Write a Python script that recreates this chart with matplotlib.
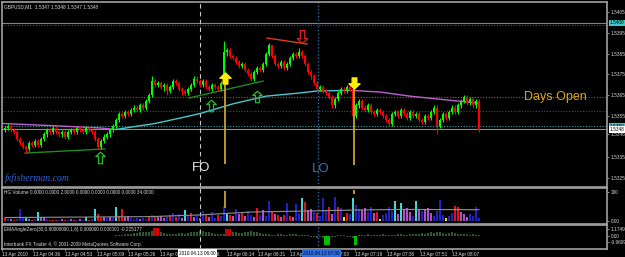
import matplotlib
matplotlib.use("Agg")
import matplotlib.pyplot as plt
from matplotlib.path import Path
import numpy as np

# -----------------------
# GBPUSD M1 candles
# -----------------------
opens = [
    1.5348, 1.5349, 1.5350, 1.5348, 1.5347, 1.5344, 1.5342, 1.5340, 1.5339, 1.5342,
    1.5341, 1.5343, 1.5341, 1.5344, 1.5346, 1.5348, 1.5347, 1.5349, 1.5347, 1.5346,
    1.5347, 1.5345, 1.5347, 1.5348, 1.5347, 1.5349, 1.5348, 1.5347, 1.5349, 1.5348,
    1.5347, 1.5344, 1.5340, 1.5343, 1.5345, 1.5346, 1.5348, 1.5350, 1.5353, 1.5356,
    1.5355, 1.5357, 1.5356, 1.5358, 1.5359, 1.5358, 1.5360, 1.5359, 1.5362, 1.5365,
    1.5372, 1.5370, 1.5371, 1.5369, 1.5370, 1.5367, 1.5369, 1.5372, 1.5371, 1.5368,
    1.5367, 1.5366, 1.5368, 1.5370, 1.5373, 1.5372, 1.5370, 1.5372, 1.5369, 1.5368,
    1.5370, 1.5369, 1.5368, 1.5371, 1.5386, 1.5387, 1.5384, 1.5383, 1.5381, 1.5379,
    1.5380, 1.5377, 1.5375, 1.5373, 1.5376, 1.5378, 1.5377, 1.5380, 1.5385, 1.5389,
    1.5384, 1.5380, 1.5379, 1.5381, 1.5378, 1.5380, 1.5383, 1.5385, 1.5384, 1.5386,
    1.5384, 1.5380, 1.5376, 1.5374, 1.5371, 1.5368, 1.5369, 1.5367, 1.5366, 1.5364,
    1.5360, 1.5363, 1.5366, 1.5368, 1.5367, 1.5369, 1.5368, 1.5355, 1.5360, 1.5362,
    1.5359, 1.5358, 1.5360, 1.5357, 1.5356, 1.5358, 1.5357, 1.5355, 1.5353, 1.5351,
    1.5356, 1.5357, 1.5355, 1.5358, 1.5356, 1.5354, 1.5357, 1.5355, 1.5356, 1.5353,
    1.5352, 1.5355, 1.5354, 1.5357, 1.5359, 1.5350, 1.5353, 1.5356, 1.5354, 1.5357,
    1.5359, 1.5357, 1.5360, 1.5362, 1.5364, 1.5361, 1.5363, 1.5360, 1.5362,
]
closes = [
    1.5349, 1.5350, 1.5348, 1.5347, 1.5344, 1.5342, 1.5340, 1.5339, 1.5342, 1.5341,
    1.5343, 1.5341, 1.5344, 1.5346, 1.5348, 1.5347, 1.5349, 1.5347, 1.5346, 1.5347,
    1.5345, 1.5347, 1.5348, 1.5347, 1.5349, 1.5348, 1.5347, 1.5349, 1.5348, 1.5347,
    1.5344, 1.5340, 1.5343, 1.5345, 1.5346, 1.5348, 1.5350, 1.5353, 1.5356, 1.5355,
    1.5357, 1.5356, 1.5358, 1.5359, 1.5358, 1.5360, 1.5359, 1.5362, 1.5365, 1.5372,
    1.5370, 1.5371, 1.5369, 1.5370, 1.5367, 1.5369, 1.5372, 1.5371, 1.5368, 1.5367,
    1.5366, 1.5368, 1.5370, 1.5373, 1.5372, 1.5370, 1.5372, 1.5369, 1.5368, 1.5370,
    1.5369, 1.5368, 1.5371, 1.5386, 1.5387, 1.5384, 1.5383, 1.5381, 1.5379, 1.5380,
    1.5377, 1.5375, 1.5373, 1.5376, 1.5378, 1.5377, 1.5380, 1.5385, 1.5389, 1.5384,
    1.5380, 1.5379, 1.5381, 1.5378, 1.5380, 1.5383, 1.5385, 1.5384, 1.5386, 1.5384,
    1.5380, 1.5376, 1.5374, 1.5371, 1.5368, 1.5369, 1.5367, 1.5366, 1.5364, 1.5360,
    1.5363, 1.5366, 1.5368, 1.5367, 1.5369, 1.5368, 1.5355, 1.5360, 1.5362, 1.5359,
    1.5358, 1.5360, 1.5357, 1.5356, 1.5358, 1.5357, 1.5355, 1.5353, 1.5351, 1.5356,
    1.5357, 1.5355, 1.5358, 1.5356, 1.5354, 1.5357, 1.5355, 1.5356, 1.5353, 1.5352,
    1.5355, 1.5354, 1.5357, 1.5359, 1.5350, 1.5353, 1.5356, 1.5354, 1.5357, 1.5359,
    1.5357, 1.5360, 1.5362, 1.5364, 1.5361, 1.5363, 1.5360, 1.5362, 1.5348,
]
highs = [
    1.5350, 1.5351, 1.5351, 1.5349, 1.5348, 1.5345, 1.5343, 1.5341, 1.5343, 1.5343,
    1.5344, 1.5344, 1.5345, 1.5347, 1.5349, 1.5349, 1.5350, 1.5350, 1.5348, 1.5348,
    1.5348, 1.5348, 1.5349, 1.5349, 1.5350, 1.5350, 1.5349, 1.5350, 1.5350, 1.5349,
    1.5348, 1.5345, 1.5344, 1.5346, 1.5347, 1.5349, 1.5351, 1.5354, 1.5357, 1.5357,
    1.5358, 1.5358, 1.5359, 1.5360, 1.5360, 1.5361, 1.5361, 1.5363, 1.5366, 1.5374,
    1.5373, 1.5372, 1.5372, 1.5371, 1.5371, 1.5370, 1.5373, 1.5373, 1.5372, 1.5369,
    1.5368, 1.5369, 1.5371, 1.5374, 1.5374, 1.5373, 1.5373, 1.5373, 1.5370, 1.5371,
    1.5371, 1.5370, 1.5372, 1.5391, 1.5388, 1.5388, 1.5385, 1.5384, 1.5382, 1.5381,
    1.5381, 1.5378, 1.5376, 1.5377, 1.5379, 1.5379, 1.5381, 1.5386, 1.5390, 1.5389,
    1.5385, 1.5381, 1.5382, 1.5382, 1.5381, 1.5384, 1.5386, 1.5386, 1.5388, 1.5387,
    1.5385, 1.5381, 1.5377, 1.5375, 1.5372, 1.5370, 1.5370, 1.5368, 1.5367, 1.5365,
    1.5364, 1.5367, 1.5369, 1.5369, 1.5370, 1.5370, 1.5368, 1.5361, 1.5363, 1.5363,
    1.5360, 1.5361, 1.5361, 1.5358, 1.5359, 1.5359, 1.5358, 1.5356, 1.5354, 1.5357,
    1.5358, 1.5358, 1.5359, 1.5359, 1.5357, 1.5358, 1.5358, 1.5357, 1.5357, 1.5354,
    1.5356, 1.5356, 1.5358, 1.5360, 1.5360, 1.5354, 1.5357, 1.5357, 1.5358, 1.5360,
    1.5360, 1.5361, 1.5363, 1.5365, 1.5365, 1.5364, 1.5364, 1.5363, 1.5363,
]
lows = [
    1.5347, 1.5348, 1.5347, 1.5346, 1.5343, 1.5341, 1.5339, 1.5337, 1.5338, 1.5340,
    1.5340, 1.5340, 1.5340, 1.5343, 1.5345, 1.5346, 1.5346, 1.5346, 1.5345, 1.5345,
    1.5344, 1.5344, 1.5346, 1.5346, 1.5346, 1.5347, 1.5346, 1.5346, 1.5347, 1.5346,
    1.5343, 1.5339, 1.5339, 1.5342, 1.5344, 1.5345, 1.5347, 1.5349, 1.5352, 1.5354,
    1.5354, 1.5355, 1.5355, 1.5357, 1.5357, 1.5357, 1.5358, 1.5358, 1.5361, 1.5364,
    1.5369, 1.5369, 1.5368, 1.5367, 1.5365, 1.5366, 1.5368, 1.5370, 1.5367, 1.5365,
    1.5365, 1.5365, 1.5367, 1.5369, 1.5371, 1.5369, 1.5369, 1.5368, 1.5367, 1.5367,
    1.5368, 1.5367, 1.5367, 1.5370, 1.5384, 1.5383, 1.5382, 1.5380, 1.5378, 1.5378,
    1.5376, 1.5374, 1.5372, 1.5372, 1.5375, 1.5376, 1.5376, 1.5379, 1.5384, 1.5383,
    1.5379, 1.5378, 1.5378, 1.5377, 1.5377, 1.5379, 1.5382, 1.5383, 1.5383, 1.5383,
    1.5379, 1.5375, 1.5373, 1.5370, 1.5367, 1.5367, 1.5366, 1.5365, 1.5363, 1.5359,
    1.5359, 1.5362, 1.5365, 1.5366, 1.5366, 1.5367, 1.5354, 1.5354, 1.5359, 1.5358,
    1.5357, 1.5357, 1.5356, 1.5355, 1.5355, 1.5356, 1.5354, 1.5352, 1.5350, 1.5350,
    1.5355, 1.5354, 1.5354, 1.5355, 1.5353, 1.5353, 1.5354, 1.5354, 1.5352, 1.5351,
    1.5351, 1.5353, 1.5353, 1.5356, 1.5346, 1.5349, 1.5352, 1.5353, 1.5353, 1.5356,
    1.5356, 1.5356, 1.5359, 1.5361, 1.5360, 1.5360, 1.5359, 1.5359, 1.5347,
]

# moving average (cyan while rising, magenta while falling)
ma_fall1_bars = [-1, 18, 32, 37]
ma_fall1 = [1.53513, 1.53501, 1.53491, 1.53484]
ma_rise_bars = [37, 50, 58, 65, 76, 87, 98, 104, 115]
ma_rise = [1.53484, 1.53513, 1.53538, 1.53561, 1.53608, 1.53645, 1.53660, 1.53670, 1.53673]
ma_fall2_bars = [115, 125, 135, 147, 158]
ma_fall2 = [1.53673, 1.53665, 1.53645, 1.53627, 1.53611]

# horizontal levels
level_top = 1.5400
level_top_dots = 1.53991
days_open = 1.53642
level_green = 1.53573
level_cyan = 1.5350
last_price = 1.53484

# trend lines and signals
green_line1_bars = [6.7, 33.3]
green_line1 = [1.53370, 1.53390]
green_line2_bars = [61.3, 86.0]
green_line2 = [1.53636, 1.53718]
red_line_bars = [87.3, 100.7]
red_line = [1.53926, 1.53897]

fo_bar = 65.0
lo_bar = 104.3
buy_bar, buy_price = 73.3, 1.53733
sell_bar, sell_price = 116.3, 1.53709
buy_stem = [1.53716, 1.53317]
sell_stem = [1.53685, 1.53312]
down_hint_bar, down_hint_price = 99.0, 1.53930
up_hint_bars = [31.7, 68.7, 84.0]
up_hint_prices = [1.53350, 1.53602, 1.53646]

# volume histogram
volumes = [
    10, 7, 7, 3, 7, 41, 10, 14, 7, 3,
    7, 31, 14, 14, 7, 3, 3, 3, 3, 7,
    3, 3, 7, 3, 3, 7, 3, 14, 3, 7,
    41, 24, 10, 14, 10, 14, 10, 48, 17, 41,
    14, 17, 10, 7, 10, 7, 10, 7, 17, 21,
    17, 14, 17, 10, 14, 21, 28, 14, 24, 10,
    38, 17, 28, 14, 21, 10, 35, 24, 14, 31,
    10, 21, 17, 52, 28, 21, 17, 41, 24, 28,
    17, 35, 21, 14, 45, 21, 38, 17, 69, 31,
    24, 21, 14, 21, 62, 17, 14, 59, 28, 79,
    66, 38, 41, 31, 28, 17, 79, 35, 48, 24,
    83, 48, 45, 14, 28, 24, 79, 55, 41, 38,
    45, 31, 48, 28, 31, 7, 21, 28, 48, 35,
    69, 24, 62, 41, 45, 31, 17, 69, 38, 35,
    41, 45, 28, 17, 35, 72, 21, 10, 17, 28,
    52, 48, 31, 24, 14, 24, 17, 48, 10,
]
vol_kind = (
    "rbmrbbbcmr" "bcmmbrrrbm" "rbmrbmbcrb" "crrmbmbcrr" "mmbbbmbbrb"
    "rmmmbrbrbm" "cbrmbmbrmb" "brbbcrmbmr" "mbbmrbmbbr" "mrmrbrmbbc"
    "rmmbrbbbrm" "brbyrbcbbm" "mbbmrybbbb" "cmcmmmbcmb" "mmmbbbbybb"
    "rrmmmbbbb"
)
vol_ma_bars = [0, 48, 65, 82, 98, 118, 132, 158]
vol_ma = [12, 15, 21, 31, 34, 38, 40, 39]
vol_buy_seg = [45, 103]
vol_sell_seg = [93, 107]

# EMAAngleZero histogram
ema = [
    0, 0, 0, 0, 0, 0, 0, 0, 0, 0,
    0, 0, 0, 0, 0, 0, 0, 0, 0, 0,
    0, 0, 0, 0, 0, 0, 0, 0, 0, 0,
    0, 0, 0, 0, 0, 0, 0, 0.1, 0.2, 0.2,
    0.3, 0.3, 0.4, 0.5, 0.5, 0.6, 0.6, 0.7, 0.7, 0.8,
    1.3, 1.3, 0.6, 0.5, 0.4, 0.4, 0.3, 0.4, 0.5, 0.5,
    0.4, 0.5, 0.6, 0.6, 0.7, 0.8, 0.8, 0.7, 0.6, 0.5,
    0.4, 0.3, 0.3, 0.4, 1.15, 1.15, 0.7, 0.6, 0.5, 0.5,
    0.6, 0.7, 0.8, 0.7, 0.6, 0.5, 0.4, 0.3, 0.3, 0.2,
    0.2, 0.3, 0.3, 0.2, 0.2, 0.3, 0.4, 0.3, 0.2, 0.1,
    0.1, 0.1, -0.1, -0.2, -0.3, -0.2, -0.3, -1.5, -1.5, -0.2,
    -0.1, 0.1, 0.2, 0.1, -0.1, -0.2, -0.3, -1.5, 0.1, 0.2,
    0.2, 0.3, 0.2, 0.1, 0.1, 0.2, 0.3, 0.2, 0.2, 0.1,
    0.2, 0.3, 0.3, 0.2, 0.2, 0.3, 0.4, 0.3, 0.4, 0.5,
    0.4, 0.5, 0.6, 0.5, 0.6, 0.6, 0.5, 0.4, 0.5, 0.6,
    0.5, 0.4, 0.3, 0.4, 0.3, 0.2, 0.3, 0.2, 0.1,
]
ema_red_bars = [50, 51, 74, 75]
ema_green_bars = [107, 108, 117]

# axis labels
price_ticks = [1.5405, 1.5395, 1.5385, 1.5375, 1.5365, 1.5355, 1.5346, 1.5335, 1.5325]
time_tick_bars = [-1, 9.3, 20, 30.7, 41, 51.7, 62.3, 74, 84.3, 95, 105.7, 116.7, 127.3, 138.3, 149]
time_tick_labels = [
    "13 Apr 2010", "13 Apr 04:36", "13 Apr 04:53", "13 Apr 05:09", "13 Apr 05:26",
    "13 Apr 05:42", "13 Apr 05:58", "13 Apr 06:14", "13 Apr 06:31", "13 Apr 06:47",
    "13 Apr 07:03", "13 Apr 07:19", "13 Apr 07:36", "13 Apr 07:51", "13 Apr 08:07",
]

# -----------------------
# Style
# -----------------------
BG = "black"
FRAME = "#a0a0a0"
TXT = "#d8d8d8"
BULL = "#00ff00"
BEAR = "#ff0000"
CYAN_MA = "#48c8d0"
MAG_MA = "#c060d0"
SIGNAL = "#c9a227"
VOL_COLORS = {"b": "#2020c8", "m": "#b050c8", "r": "#e81010", "c": "#40d8d8", "y": "#e8e800"}
FAM = ["Liberation Sans", "DejaVu Sans"]
FS = 3.4
SMALL = dict(fontsize=FS, family=FAM)

W, H = 625, 257
fig = plt.figure(figsize=(W / 100, H / 100), dpi=100, facecolor=BG)


def panel(y0, y1, x0=2, x1=607):
    ax = fig.add_axes([x0 / W, 1 - y1 / H, (x1 - x0) / W, (y1 - y0) / H])
    ax.set_facecolor(BG)
    for sp in ax.spines.values():
        sp.set_color(FRAME)
        sp.set_linewidth(1.2)
    ax.set_xlim(-1, 200.67)
    ax.set_xticks([])
    ax.yaxis.tick_right()
    ax.tick_params(axis="y", colors=FRAME, labelcolor=TXT, labelsize=FS,
                   length=1.5, width=0.6, pad=1.0)
    return ax


ax = panel(2, 187)
ax_vol = panel(188, 223.5)
ax_ema = panel(224.5, 248.5)

bars = np.arange(len(closes))
o, c = np.array(opens), np.array(closes)
h, l = np.array(highs), np.array(lows)

# -----------------------
# Main price panel
# -----------------------
ax.set_ylim(1.53206, 1.54100)
ax.set_yticks(price_ticks)
ax.set_yticklabels([f"{p:.4f}" for p in price_ticks], family=FAM)

ax.axhline(level_top, color="#20b0b0", lw=0.8)
ax.axhline(level_top_dots, color="#c000c0", lw=0.8, ls=(0, (1, 1.5)))
ax.axhline(days_open, color="#a06000", lw=0.8, ls=(0, (1, 1.5)))
ax.axhline(level_green, color="#007050", lw=0.8, ls=(0, (1, 1.5)))
ax.axhline(level_cyan, color="#40a0a8", lw=0.8, ls=(0, (1, 1.5)))
ax.axhline(last_price, color="#909090", lw=0.8)

for a in (ax, ax_vol, ax_ema):
    a.axvline(fo_bar, color="#c8c8c8", lw=0.8, ls=(0, (4, 3)))
    a.axvline(lo_bar, color="#2a6ab0", lw=1.0, ls=(0, (1, 1.5)))

ax.plot(ma_fall1_bars, ma_fall1, color=MAG_MA, lw=1.0)
ax.plot(ma_rise_bars, ma_rise, color=CYAN_MA, lw=1.0)
ax.plot(ma_fall2_bars, ma_fall2, color=MAG_MA, lw=1.0)

ax.plot(green_line1_bars, green_line1, color="#1f8a1f", lw=1.0)
ax.plot(green_line2_bars, green_line2, color="#1f8a1f", lw=1.0)
ax.plot(red_line_bars, red_line, color="#e03a1a", lw=1.0)

colors = np.where(c >= o, BULL, BEAR)
ax.vlines(bars, l, h, colors=colors, lw=0.8, zorder=3)
ax.bar(bars, np.abs(c - o), bottom=np.minimum(o, c), width=0.7,
       color=colors, linewidth=0, zorder=3)

ax.vlines([buy_bar], buy_stem[1], buy_stem[0], color=SIGNAL, lw=1.3, zorder=4)
ax.vlines([sell_bar], sell_stem[1], sell_stem[0], color=SIGNAL, lw=1.3, zorder=4)

up_arrow = Path([(0, 1), (1, 0.05), (0.42, 0.05), (0.42, -1), (-0.42, -1),
                 (-0.42, 0.05), (-1, 0.05), (0, 1)], closed=True)
down_arrow = Path([(x, -y) for x, y in up_arrow.vertices], closed=True)
hint_up = Path([(0, 1), (0.9, 0.2), (0.38, 0.2), (0.38, -1.2), (-0.38, -1.2),
                (-0.38, 0.2), (-0.9, 0.2), (0, 1)], closed=True)
hint_down = Path([(x, -y) for x, y in hint_up.vertices], closed=True)

ax.plot([buy_bar], [buy_price], marker=up_arrow, ms=8, color="#ffee00", mec="#ffee00", ls="", zorder=5)
ax.plot([sell_bar], [sell_price], marker=down_arrow, ms=8, color="#ffee00", mec="#ffee00", ls="", zorder=5)
ax.plot([down_hint_bar], [down_hint_price], marker=hint_down, ms=10, mfc="none",
        mec="#e02020", mew=0.9, ls="", zorder=5)
ax.plot(up_hint_bars, up_hint_prices, marker=hint_up, ms=9, mfc="none",
        mec="#20c020", mew=0.9, ls="", zorder=5)

ax.text(0.004, 0.985, "GBPUSD,M1  1.5347 1.5348 1.5347 1.5348", transform=ax.transAxes,
        color=TXT, ha="left", va="top", **SMALL)
ax.text(173, days_open, "Days Open", color="#daa520", fontsize=9,
        family="Liberation Sans", ha="left", va="center")
ax.text(fo_bar + 0.5, 1.53300, "FO", color="#e8e8e8", fontsize=9.5,
        family="Liberation Sans", ha="center", va="center")
ax.text(lo_bar + 0.9, 1.53295, "LO", color="#3d72b8", fontsize=9.5,
        family="Liberation Sans", ha="center", va="center")
ax.text(0.005, 0.048, "fxfisherman.com", transform=ax.transAxes, color="#3060d0",
        fontsize=7, family="Liberation Serif", style="italic", ha="left", va="center")

ytr = ax.get_yaxis_transform()
for val, txt, fc in [(level_top, "1.5400", "#40c8c8"), (level_cyan, "1.5350", "#40c8c8"),
                     (last_price, "1.5348", "white")]:
    ax.text(1.005, val, txt, transform=ytr, color="black", ha="left", va="center",
            bbox=dict(boxstyle="square,pad=0.12", fc=fc, ec="none"), zorder=6, **SMALL)

# -----------------------
# Volume panel
# -----------------------
ax_vol.set_ylim(-8.6, 113.9)
ax_vol.set_yticks([100, 0])
ax_vol.set_yticklabels(["100", "0.00"], family=FAM)
ax_vol.bar(bars, volumes, width=0.7, color=[VOL_COLORS[k] for k in vol_kind], linewidth=0)
ax_vol.plot(vol_ma_bars, vol_ma, color="#909090", lw=0.8)
ax_vol.vlines([buy_bar], vol_buy_seg[0], vol_buy_seg[1], color=SIGNAL, lw=1.3)
ax_vol.vlines([sell_bar], vol_sell_seg[0], vol_sell_seg[1], color=SIGNAL, lw=1.3)
ax_vol.text(0.004, 0.86, "HG Volume 0.0000 0.0000 2.0000 0.0000 0.0000 0.0000 0.0000 34.0000",
            transform=ax_vol.transAxes, color=TXT, ha="left", va="center", **SMALL)

# -----------------------
# EMA angle panel
# -----------------------
ax_ema.set_ylim(-2.08, 1.92)
ax_ema.set_yticks([1.174975, 0, -0.960913])
ax_ema.set_yticklabels(["1.174975", "0.00", "-0.960913"], family=FAM)
ema_col = ["#d00000" if i in ema_red_bars else "#00c000" if i in ema_green_bars else "#2a5a2a"
           for i in bars]
ema_w = [1.0 if (i in ema_red_bars or i in ema_green_bars) else 0.35 for i in bars]
ax_ema.bar(bars, ema, width=ema_w, color=ema_col, linewidth=0)
ax_ema.text(0.004, 0.79, "EMAAngleZero(30,0.80000000,1,6) 0.000000 0.000000 -0.225177",
            transform=ax_ema.transAxes, color=TXT, ha="left", va="center", **SMALL)
ax_ema.text(0.003, 0.19, "Interbank FX Trader 4, \u00a9 2001-2009 MetaQuotes Software Corp.",
            transform=ax_ema.transAxes, color=TXT, ha="left", va="center", **SMALL)

ax_ema.set_xticks(time_tick_bars)
ax_ema.set_xticklabels(time_tick_labels, ha="left", family=FAM)
ax_ema.tick_params(axis="x", colors=FRAME, labelcolor=TXT, labelsize=FS,
                   length=1.5, width=0.6, pad=1.2)

xtr = ax_ema.get_xaxis_transform()
ax_ema.text(fo_bar - 0.8, -0.19, "2010.04.13 06:00", transform=xtr, color="black",
            ha="center", va="center", bbox=dict(boxstyle="square,pad=0.25", fc="white", ec="none"),
            zorder=6, clip_on=False, **SMALL)
ax_ema.text(lo_bar + 1.2, -0.19, "2010.04.13 07:00", transform=xtr, color="black",
            ha="center", va="center", bbox=dict(boxstyle="square,pad=0.25", fc="#2f6fe8", ec="none"),
            zorder=6, clip_on=False, **SMALL)

fig.savefig("out.png", dpi=100, facecolor=BG)
